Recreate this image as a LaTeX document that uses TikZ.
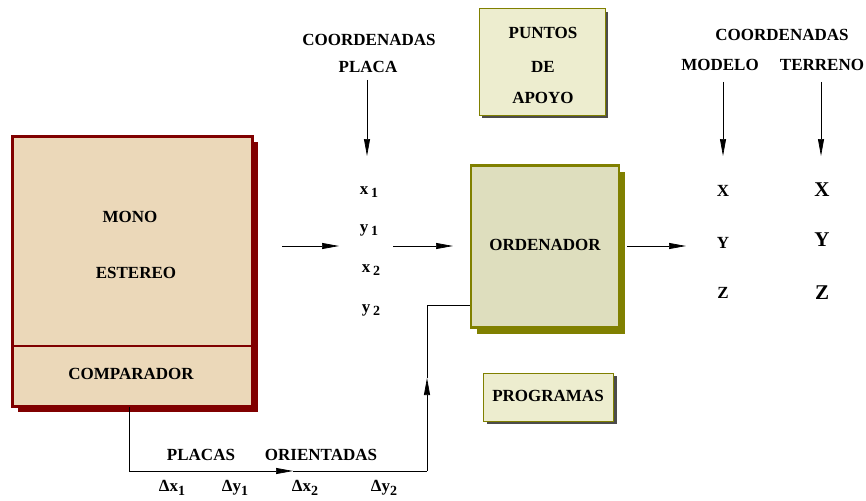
\documentclass[tikz,border=0pt]{standalone}
\usepackage{fontspec}
\setmainfont{Liberation Serif}
\usetikzlibrary{arrows.meta,shadows}
\definecolor{boxred}{HTML}{800000}
\definecolor{boxtan}{HTML}{EBD8B9}
\definecolor{olive}{HTML}{808000}
\definecolor{ordfill}{HTML}{DEDEBE}
\definecolor{lightfill}{HTML}{EDEDCF}
\newcommand{\subs}[1]{\,\raisebox{-3.5pt}{\fontsize{14}{14}\selectfont #1}}
\newcommand{\dsubs}[1]{\raisebox{-3.5pt}{\fontsize{14}{14}\selectfont #1}}
\begin{document}
\begin{tikzpicture}[x=1pt,y=-1pt,
  every node/.style={font=\bfseries\fontsize{17}{19}\selectfont, inner sep=0pt},
  var/.style={font=\bfseries\fontsize{17}{19}\selectfont},
  bigvar/.style={font=\bfseries\fontsize{21}{23}\selectfont},
  arr/.style={-{Triangle[length=17pt,width=6pt]}, line width=0.7pt},
  wire/.style={line width=0.7pt},
  redbox/.style={draw=boxred, line width=2.2pt, fill=boxtan,
    drop shadow={shadow xshift=5pt, shadow yshift=-5pt, fill=boxred, opacity=1}},
  ordbox/.style={draw=olive, line width=2.2pt, fill=ordfill,
    drop shadow={shadow xshift=6pt, shadow yshift=-6pt, fill=olive, opacity=1}},
  smallbox/.style={draw=olive, line width=1pt, fill=lightfill,
    drop shadow={shadow xshift=3pt, shadow yshift=-3pt, fill=black!70, opacity=1}}
]
\useasboundingbox (0,0) rectangle (866,500);

% left box
\node[redbox, minimum width=240pt, minimum height=270pt] (main) at (132.5,271.5) {};
\draw[boxred, line width=2.2pt] (main.west |- 0,346) coordinate (dl) -- (main.east |- 0,346) coordinate (dr);
\node (mono) at (130,217) {MONO};
\node (est) at (136,273) {ESTEREO};
\node (comp) at (131,374) {COMPARADOR};

% coordenadas placa
\node (cp1) at (369,40) {COORDENADAS};
\node (cp2) at (368,67) {PLACA};
\coordinate (cpa) at (367,80);
\coordinate (cpb) at (367,156);
\draw[arr] (cpa) -- (cpb);
\node[var] (x1) at (369,192) {x\subs{1}};
\node[var] (y1) at (369,230) {y\subs{1}};
\node[var] (x2) at (371,270) {x\subs{2}};
\node[var] (y2) at (371,310) {y\subs{2}};

% puntos de apoyo
\node[smallbox, minimum width=126pt, minimum height=106pt] (pts) at (542,62) {};
\node (p1) at (543,33) {PUNTOS};
\node (p2) at (543,67) {DE};
\node (p3) at (543,98) {APOYO};

% ordenador
\node[ordbox, minimum width=148pt, minimum height=162pt] (ord) at (545,246.5) {};
\node (ordt) at (545,245) {ORDENADOR};

% programas
\node[smallbox, minimum width=130pt, minimum height=48pt] (prog) at (548.5,397) {};
\node (progt) at (548,396) {PROGRAMAS};

% arrows mid
\coordinate (a1s) at (282,246);
\coordinate (a1e) at (339,246);
\coordinate (a2s) at (393,246);
\coordinate (a2e) at (453,246);
\draw[arr] (a1s) -- (a1e);
\draw[arr] (a2s) -- (a2e);
\coordinate (a3s) at (627,246);
\coordinate (a3e) at (686,246);
\draw[arr] (a3s) -- (a3e);

% feedback line
\coordinate (f0) at (129,407);
\coordinate (f1) at (129,471);
\coordinate (fa) at (293,471);
\coordinate (f2) at (427,471);
\coordinate (fb) at (427,378);
\coordinate (f3) at (427,305);
\coordinate (f4) at (ord.west |- f3);
\draw[wire] (f0) -- (f1);
\draw[arr] (f1) -- (fa);
\draw[wire] (fa) -- (f2);
\draw[arr] (f2) -- (fb);
\draw[wire] (fb) -- (f3) -- (f4);
\node (pl) at (201,455) {PLACAS};
\node (or) at (321,455) {ORIENTADAS};
\node (d1) at (172,488) {Δx\dsubs{1}};
\node (d2) at (235,488) {Δy\dsubs{1}};
\node (d3) at (305,488) {Δx\dsubs{2}};
\node (d4) at (384,488) {Δy\dsubs{2}};

% right side
\node (rc) at (782,35) {COORDENADAS};
\node (rm) at (720,65) {MODELO};
\node (rt) at (822,65) {TERRENO};
\coordinate (ma) at (723,82);
\coordinate (mb) at (723,156);
\coordinate (ta) at (821,82);
\coordinate (tb) at (821,156);
\draw[arr] (ma) -- (mb);
\draw[arr] (ta) -- (tb);
\node[var] (mx) at (723,191) {X};
\node[var] (my) at (723,243) {Y};
\node[var] (mz) at (723,293) {Z};
\node[bigvar] (tx) at (822,190) {X};
\node[bigvar] (ty) at (822,240) {Y};
\node[bigvar] (tz) at (822,293) {Z};
\end{tikzpicture}
\end{document}
